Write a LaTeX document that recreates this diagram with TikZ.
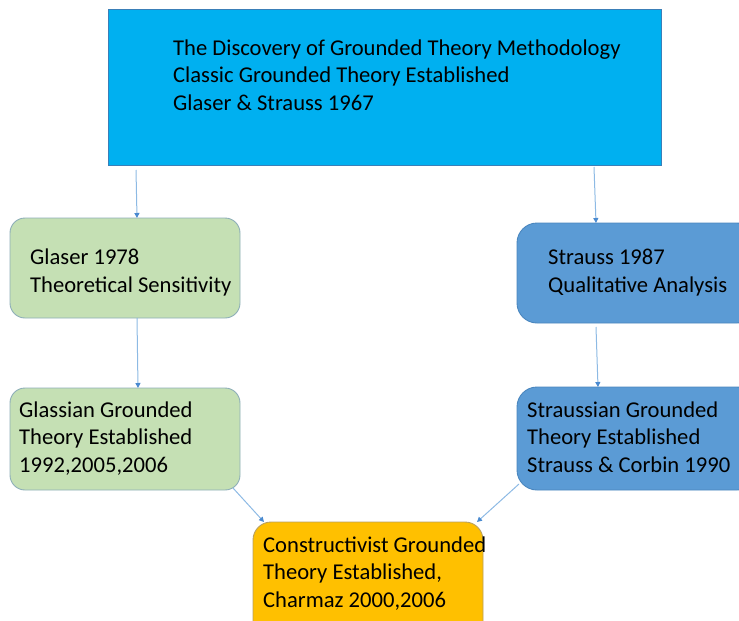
\documentclass[tikz,border=0pt]{standalone}
\usepackage{fontspec}
\setmainfont{Carlito}
\usepackage{tikz}
\usetikzlibrary{arrows.meta,positioning}
\usepackage{xcolor}
\definecolor{topfill}{HTML}{00B0F0}
\definecolor{topline}{HTML}{3A7FB8}
\definecolor{greenfill}{HTML}{C5E0B4}
\definecolor{greenline}{HTML}{8DAEB8}
\definecolor{bluefill}{HTML}{5B9BD5}
\definecolor{blueline}{HTML}{4A86BE}
\definecolor{goldfill}{HTML}{FFC000}
\definecolor{goldline}{HTML}{B8A060}
\definecolor{linkblue}{HTML}{8DBAE4}
\definecolor{tipblue}{HTML}{4A8AD0}

\begin{document}
\begin{tikzpicture}[x=1pt,y=-1pt,>=Stealth,
  box/.style={draw,line width=0.9pt,outer sep=0pt,inner sep=0pt,anchor=north west},
  txt/.style={align=left,inner sep=0pt,anchor=base west,font=\fontsize{22.6}{27.5}\selectfont},
  link/.style={->,line width=1pt,linkblue,>={Triangle[length=5pt,width=5pt,color=tipblue]}}]
  \useasboundingbox (0,0) rectangle (739,621);
  % 顶部方框
  \node[box,fill=topfill,draw=topline,minimum width=553pt,minimum height=156pt] (top) at (108,9) {};
  \node[txt] (topText) at ([shift={(65,101)}]top.north west)
    {The Discovery of Grounded Theory Methodology\\Classic Grounded Theory Established\\Glaser \& Strauss 1967};
  % 左侧
  \node[box,fill=greenfill,draw=greenline,rounded corners=15pt,minimum width=230pt,minimum height=100pt] (glaser) at (10,218) {};
  \node[txt] (glaserText) at ([shift={(20,74)}]glaser.north west) {Glaser 1978\\Theoretical Sensitivity};
  \node[box,fill=greenfill,draw=greenline,rounded corners=15pt,minimum width=230pt,minimum height=102pt] (glassian) at (10,388) {};
  \node[txt] (glassianText) at ([shift={(9,84)}]glassian.north west) {Glassian Grounded\\Theory Established\\1992,2005,2006};
  % 右侧
  \node[box,fill=bluefill,draw=blueline,rounded corners=20pt,minimum width=240pt,minimum height=100pt] (strauss) at (517,223) {};
  \node[txt] (straussText) at ([shift={(31,69)}]strauss.north west) {Strauss 1987\\Qualitative Analysis};
  \node[box,fill=bluefill,draw=blueline,rounded corners=20pt,minimum width=240pt,minimum height=103pt] (straussian) at (517,387) {};
  \node[txt] (straussianText) at ([shift={(10,85)}]straussian.north west) {Straussian Grounded\\Theory Established\\Strauss \& Corbin 1990};
  % 底部
  \node[box,fill=goldfill,draw=goldline,rounded corners=18pt,minimum width=230pt,minimum height=120pt] (construct) at (253,522) {};
  \node[txt] (constructText) at ([shift={(10,85)}]construct.north west) {Constructivist Grounded\\Theory Established,\\Charmaz 2000,2006};
  % 箭头
  \draw[link] ([shift={(28,5)}]top.south west) -- ([xshift=12pt]glaser.north);
  \draw[link] ([shift={(-67,2)}]top.south east) -- ([xshift=79pt]strauss.north west);
  \draw[link] ([xshift=127pt]glaser.south west) -- ([xshift=128pt]glassian.north west);
  \draw[link] ([shift={(79,4)}]strauss.south west) -- ([xshift=81pt]straussian.north west);
  \draw[link] ([shift={(-7,-2)}]glassian.south east) -- ([xshift=11pt]construct.north west);
  \draw[link] ([shift={(2,-6)}]straussian.south west) -- ([xshift=-6pt]construct.north east);
\end{tikzpicture}
\end{document}
